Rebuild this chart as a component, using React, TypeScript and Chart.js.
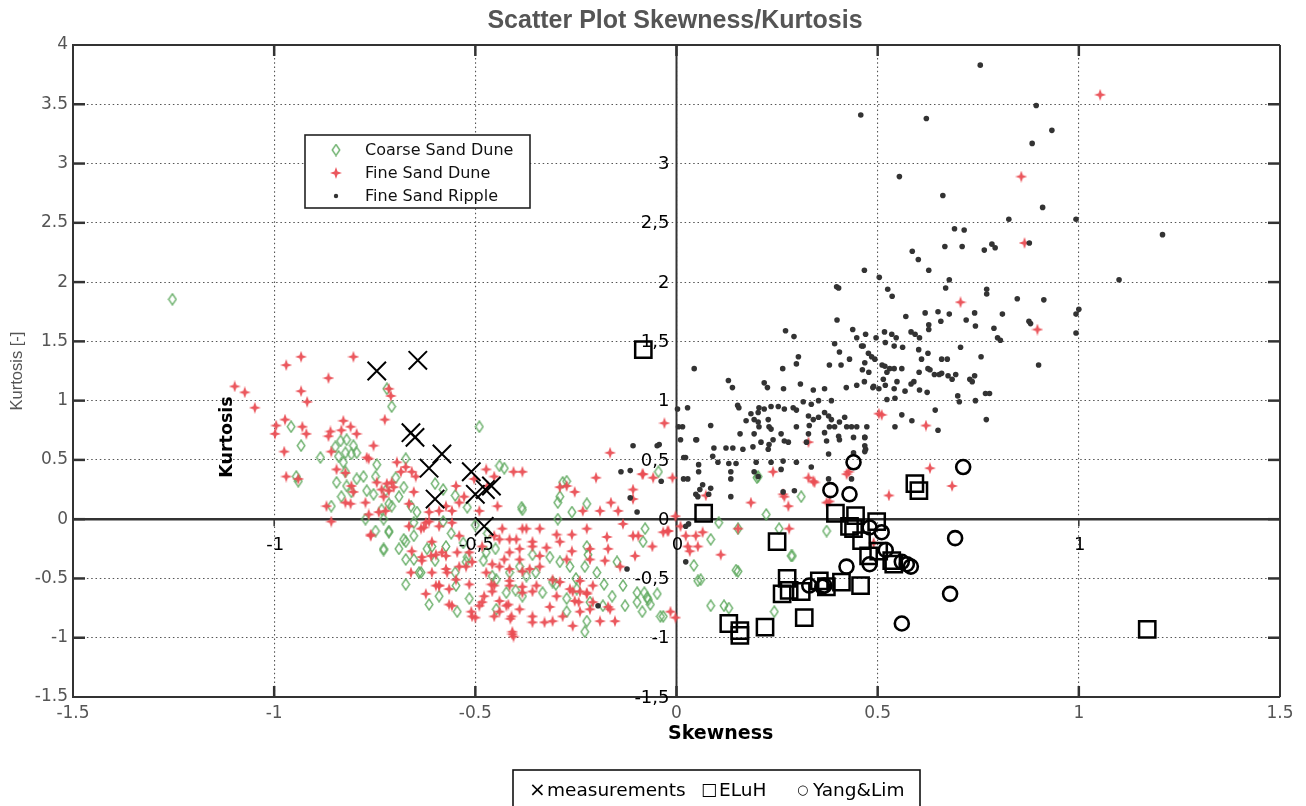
import React, { useEffect, useRef } from "react";
import { Chart, registerables } from "chart.js";

Chart.register(...registerables);

const chartTitle = "Scatter Plot Skewness/Kurtosis";
const xAxisTitle = "Skewness";
const yAxisTitle = "Kurtosis [-]";
const innerYAxisTitle = "Kurtosis";
const xTickValues = [-1.5, -1, -0.5, 0, 0.5, 1, 1.5];
const yTickValues = [-1.5, -1, -0.5, 0, 0.5, 1, 1.5, 2, 2.5, 3, 3.5, 4];
const innerXTickValues = [-1, -0.5, 0, 1];
const innerXTickLabels = ["-1", "-0,5", "0", "1"];
const innerYTickValues = [3, 2.5, 2, 1.5, 1, 0.5, 0, -0.5, -1, -1.5];
const innerYTickLabels = ["3", "2,5", "2", "1,5", "1", "0,5", "0", "-0,5", "-1", "-1,5"];
const seriesNames = ["Coarse Sand Dune", "Fine Sand Dune", "Fine Sand Ripple"];
const referenceNames = ["measurements", "ELuH", "Yang&Lim"];

const fineSandRipple: [number, number][] = [
  [0.755, 3.83], [0.458, 3.41], [0.621, 3.38], [0.894, 3.49], [0.933, 3.28], [0.884, 3.17], [0.554, 2.89], [0.662, 2.73],
  [0.91, 2.63], [0.826, 2.53], [0.993, 2.53], [0.691, 2.45], [0.715, 2.44], [1.208, 2.4], [0.667, 2.3], [0.71, 2.3],
  [0.765, 2.27], [0.784, 2.32], [0.792, 2.29], [0.877, 2.33], [0.586, 2.26], [0.601, 2.19], [0.467, 2.1], [0.627, 2.1],
  [0.504, 2.04], [0.678, 2.02], [1.1, 2.02], [0.398, 1.96], [0.403, 1.95], [0.525, 1.94], [0.536, 1.88], [0.669, 1.95],
  [0.771, 1.94], [0.771, 1.9], [0.847, 1.86], [0.913, 1.85], [1.0, 1.77], [0.993, 1.73], [0.57, 1.71], [0.618, 1.74],
  [0.65, 1.75], [0.678, 1.73], [0.741, 1.74], [0.81, 1.73], [0.399, 1.68], [0.657, 1.67], [0.72, 1.68], [0.743, 1.63],
  [0.876, 1.67], [0.88, 1.65], [0.627, 1.64], [0.627, 1.6], [0.789, 1.61], [0.271, 1.59], [0.292, 1.54], [0.438, 1.6],
  [0.448, 1.53], [0.47, 1.56], [0.496, 1.53], [0.517, 1.58], [0.535, 1.56], [0.546, 1.53], [0.583, 1.58], [0.593, 1.56],
  [0.604, 1.53], [0.798, 1.53], [0.805, 1.51], [0.993, 1.57], [0.393, 1.48], [0.405, 1.41], [0.464, 1.46], [0.477, 1.4],
  [0.519, 1.49], [0.541, 1.46], [0.562, 1.45], [0.602, 1.43], [0.625, 1.4], [0.706, 1.45], [0.303, 1.37], [0.298, 1.31],
  [0.264, 1.27], [0.38, 1.3], [0.409, 1.3], [0.43, 1.35], [0.462, 1.26], [0.493, 1.35], [0.511, 1.3], [0.53, 1.27],
  [0.541, 1.27], [0.56, 1.27], [0.609, 1.35], [0.625, 1.27], [0.641, 1.22], [0.659, 1.35], [0.673, 1.35], [0.659, 1.23],
  [0.675, 1.21], [0.694, 1.22], [0.729, 1.18], [0.741, 1.21], [0.757, 1.37], [0.9, 1.3], [0.044, 1.27], [0.129, 1.17],
  [0.139, 1.11], [0.218, 1.15], [0.226, 1.11], [0.266, 1.1], [0.308, 1.14], [0.34, 1.09], [0.368, 1.1], [0.422, 1.11],
  [0.448, 1.13], [0.467, 1.16], [0.488, 1.11], [0.514, 1.18], [0.519, 1.13], [0.541, 1.1], [0.583, 1.14], [0.604, 1.09],
  [0.768, 1.06], [0.699, 1.04], [0.46, 1.46], [0.485, 1.37], [0.468, 1.32], [0.478, 1.24], [0.49, 1.12], [0.503, 1.1],
  [0.518, 1.29], [0.523, 1.24], [0.548, 1.16], [0.59, 1.16], [0.603, 1.24], [0.63, 1.26], [0.653, 1.22], [0.685, 1.18],
  [0.735, 1.16], [0.778, 1.06], [0.568, 1.08], [0.623, 1.07], [0.523, 1.01], [0.543, 1.02],
  [0.703, 0.99], [0.743, 1.0], [0.643, 0.92], [0.56, 0.88], [0.585, 0.83], [0.543, 0.78], [0.65, 0.75], [0.77, 0.84],
  [0.468, 0.69], [0.47, 0.59], [0.0025, 0.93], [0.0275, 0.94], [0.152, 0.96], [0.155, 0.94], [0.205, 0.94], [0.218, 0.93],
  [0.235, 0.95], [0.185, 0.89], [0.203, 0.9], [0.193, 0.84], [0.253, 0.95], [0.268, 0.93], [0.29, 0.94], [0.298, 0.92],
  [0.315, 0.99], [0.335, 0.97], [0.353, 1.0], [0.385, 1.0], [0.173, 0.83], [0.203, 0.82], [0.205, 0.78], [0.228, 0.84],
  [0.23, 0.78], [0.328, 0.87], [0.34, 0.84], [0.33, 0.79], [0.353, 0.86], [0.368, 0.9], [0.378, 0.87], [0.385, 0.84],
  [0.38, 0.78], [0.393, 0.78], [0.405, 0.82], [0.418, 0.86], [0.423, 0.78], [0.435, 0.78], [0.448, 0.78], [0.473, 0.78],
  [0.015, 0.78], [0.085, 0.79], [0.158, 0.72], [0.193, 0.72], [0.235, 0.76], [0.26, 0.72], [0.268, 0.66], [0.278, 0.65],
  [0.298, 0.78], [0.328, 0.72], [0.323, 0.65], [0.368, 0.73], [0.373, 0.66], [0.403, 0.7], [0.405, 0.67], [0.44, 0.69],
  [0.468, 0.69], [0.05, 0.67], [0.21, 0.65], [0.23, 0.63], [0.24, 0.67], [0.228, 0.59], [0.093, 0.6], [0.123, 0.6],
  [0.14, 0.6], [0.165, 0.59], [0.19, 0.61], [0.378, 0.55], [0.468, 0.62], [0.0225, 0.52], [0.09, 0.53], [0.103, 0.48],
  [0.13, 0.47], [0.148, 0.47], [0.198, 0.48], [0.235, 0.48], [0.265, 0.49], [0.298, 0.48], [0.055, 0.46], [0.055, 0.4],
  [0.135, 0.4], [0.135, 0.34], [0.0175, 0.34], [0.435, 0.34], [0.065, 0.29], [0.058, 0.25], [0.053, 0.19], [0.085, 0.26],
  [0.135, 0.19], [0.265, 0.23], [0.293, 0.24], [0.193, 0.4], [0.203, 0.36], [0.335, 0.44], [0.378, 0.34], [0.26, 0.42],
  [0.44, 0.56], [0.468, 0.57], [0.08, 0.21], [0.048, 0.21], [0.03, -0.04],
  [-0.108, 0.62], [-0.043, 0.63], [-0.138, 0.4], [-0.115, 0.41], [-0.038, 0.32], [-0.115, 0.18], [-0.098, 0.06],
  [-0.123, -0.42], [-0.195, -0.73], [0.005, 0.78], [0.01, 0.67], [0.018, 0.52], [0.028, 0.34], [0.048, 0.67],
  [-0.048, 0.62], [0.023, -0.06], [0.023, -0.36],
];

const fineSandDune: [number, number][] = [
  [-1.098, 1.12], [-1.073, 1.07], [-1.048, 0.94], [-0.97, 1.3], [-0.933, 1.37], [-0.803, 1.37], [-0.865, 1.19], [-0.933, 1.08],
  [-0.918, 0.99], [-0.995, 0.79], [-0.998, 0.72], [-0.973, 0.84], [-0.93, 0.78], [-0.92, 0.72], [-0.975, 0.57], [-0.97, 0.36],
  [-0.94, 0.34], [-0.86, 0.74], [-0.865, 0.7], [-0.828, 0.83], [-0.833, 0.75], [-0.81, 0.78], [-0.795, 0.72], [-0.753, 0.62],
  [-0.725, 0.84], [-0.71, 1.04], [-0.77, 0.52], [-0.858, 0.57], [-0.845, 0.42], [-0.87, 0.11], [-0.858, -0.02], [-0.823, 0.14],
  [-0.81, 0.13], [-0.808, 0.28], [-0.773, 0.14], [-0.765, 0.04], [-0.76, -0.14], [-0.733, 0.25], [-0.72, 0.3], [-0.708, 0.31],
  [-0.728, 0.19], [-0.695, 0.48], [-0.685, 0.4], [-0.673, 0.44], [-0.658, 0.4], [-0.648, 0.36], [-0.653, 0.23], [-0.633, -0.32],
  [-0.598, -0.3], [-0.66, -0.45], [-0.598, -0.56], [-0.635, -0.08], [-0.615, -0.02],
  [-0.715, 1.1], [-0.765, 0.51], [-0.803, 0.23], [-0.745, 0.31], [-0.715, 0.24], [-0.703, 0.27], [-0.665, 0.13], [-0.74, 0.06],
  [-0.723, 0.07], [-0.665, -0.06], [-0.623, -0.03], [-0.59, 0.07], [-0.573, 0.11], [-0.558, 0.07], [-0.54, 0.14], [-0.528, 0.19],
  [-0.548, 0.28], [-0.823, 0.39],
  [-0.76, -0.13], [-0.628, -0.07], [-0.633, -0.35], [-0.623, -0.63], [-0.59, -0.56], [-0.565, -0.72], [-0.573, -0.42],
  [-0.548, -0.51], [-0.523, -0.4], [-0.515, -0.55], [-0.49, -0.73], [-0.508, -0.82], [-0.478, -0.65], [-0.458, -0.61],
  [-0.44, -0.69], [-0.453, -0.82], [-0.508, -0.36], [-0.545, -0.28], [-0.573, -0.31], [-0.61, -0.31], [-0.658, -0.27],
  [-0.165, 0.56], [-0.405, 0.4], [-0.383, 0.4], [-0.2, 0.35], [-0.29, 0.27], [-0.253, 0.23], [-0.108, 0.25], [-0.108, 0.17],
  [-0.083, 0.38], [-0.01, 0.35], [-0.163, 0.14], [-0.233, 0.07], [-0.19, 0.07], [-0.145, 0.07], [-0.133, -0.04],
  [-0.383, -0.08], [-0.34, -0.08], [-0.298, -0.13], [-0.26, -0.13], [-0.223, -0.08], [-0.173, -0.15], [-0.108, -0.14],
  [-0.095, -0.14], [-0.033, -0.11], [-0.02, -0.1], [-0.453, -0.14], [-0.44, -0.17], [-0.415, -0.17], [-0.39, -0.25],
  [-0.358, -0.23], [-0.323, -0.24], [-0.29, -0.19], [-0.26, -0.27], [-0.215, -0.25], [-0.17, -0.25], [-0.06, -0.23],
  [-0.103, -0.31], [-0.458, -0.38], [-0.428, -0.34], [-0.415, -0.42], [-0.383, -0.44], [-0.34, -0.4], [-0.273, -0.34],
  [-0.215, -0.34], [-0.178, -0.35], [-0.14, -0.4], [-0.453, -0.56], [-0.415, -0.56], [-0.383, -0.57], [-0.358, -0.61],
  [-0.29, -0.53], [-0.265, -0.59], [-0.24, -0.61], [-0.208, -0.56], [-0.223, -0.63], [-0.44, -0.78], [-0.41, -0.82],
  [-0.358, -0.87], [-0.315, -0.74], [-0.253, -0.69], [-0.215, -0.76], [-0.24, -0.78], [-0.153, -0.86], [-0.015, -0.78],
  [-0.0025, -0.83], [-0.408, -0.97], [-0.258, -0.9],
  [-0.03, 0.81], [-0.085, 0.38], [0.01, -0.06], [0.023, -0.14], [0.048, -0.14], [0.065, -0.11], [0.028, -0.23], [0.053, -0.23],
  [0.11, -0.3], [0.153, -0.08], [0.185, 0.14], [0.24, 0.4], [0.265, 0.21], [0.278, 0.11], [0.28, -0.08], [0.328, 0.35],
  [0.328, 0.65], [0.423, 0.38], [0.38, 0.15], [-0.0025, 0.025], [-0.0225, -0.1], [0.033, -0.27], [0.34, 0.32], [0.373, 0.14],
  [0.528, 0.2], [0.685, 0.28], [0.51, 0.88], [0.62, 0.79], [0.63, 0.43], [0.503, 0.89], [0.343, 0.31], [0.268, 0.19],
  [0.073, 0.2], [0.428, 0.4], [1.053, 3.58], [0.857, 2.89], [0.865, 2.33], [0.706, 1.83], [0.897, 1.6], [0.49, -0.2],
  [-0.058, 0.35], [-0.273, 0.28], [-0.503, 0.34], [-0.47, 0.28], [-0.453, 0.36], [-0.473, 0.42], [-0.49, 0.07], [-0.445, 0.11],
  [-0.615, 0.06], [-0.59, -0.06], [-0.558, -0.03], [-0.54, -0.14], [-0.608, -0.19], [-0.583, -0.28],
  [-0.433, -0.08], [-0.398, -0.17], [-0.373, -0.08], [-0.358, -0.19], [-0.415, -0.28], [-0.39, -0.34], [-0.365, -0.42],
  [-0.34, -0.31], [-0.44, -0.4], [-0.483, -0.23], [-0.515, -0.28], [-0.54, -0.4], [-0.57, -0.45], [-0.473, -0.45],
  [-0.46, -0.55], [-0.415, -0.52], [-0.383, -0.62], [-0.348, -0.56], [-0.308, -0.51], [-0.298, -0.65], [-0.258, -0.61],
  [-0.24, -0.52], [-0.223, -0.62], [-0.39, -0.76], [-0.423, -0.73], [-0.483, -0.7], [-0.51, -0.78], [-0.558, -0.73],
  [-0.565, -0.59], [-0.59, -0.56], [-0.608, -0.45], [-0.358, -0.82], [-0.328, -0.87], [-0.283, -0.82], [-0.408, -0.95],
  [-0.208, -0.7], [-0.19, -0.86], [-0.165, -0.76], [-0.5, -0.83], [-0.413, -0.84], [-0.405, -0.99], [-0.308, -0.86],
  [-0.17, -0.74], [-0.243, -0.7], [-0.418, -0.72],
];

const coarseSandDune: [number, number][] = [
  [-1.253, 1.855], [-0.72, 1.1], [-0.708, 0.95], [-0.958, 0.78], [-0.933, 0.62], [-0.945, 0.36], [-0.94, 0.32], [-0.885, 0.52],
  [-0.848, 0.61], [-0.835, 0.66], [-0.82, 0.67], [-0.803, 0.62], [-0.823, 0.56], [-0.84, 0.53], [-0.808, 0.55], [-0.795, 0.56],
  [-0.828, 0.48], [-0.823, 0.4], [-0.845, 0.31], [-0.82, 0.28], [-0.808, 0.23], [-0.833, 0.19], [-0.858, 0.11], [-0.795, 0.34],
  [-0.778, 0.36], [-0.748, 0.36], [-0.77, 0.24], [-0.753, 0.21], [-0.723, 0.24], [-0.715, 0.13], [-0.733, 0.08], [-0.69, 0.19],
  [-0.678, 0.27], [-0.708, 0.11], [-0.698, 0.35], [-0.745, 0.46], [-0.773, 0.0], [-0.728, 0.0], [-0.715, -0.11], [-0.728, -0.25],
  [-0.678, -0.17], [-0.69, -0.25], [-0.653, -0.14], [-0.66, 0.11], [-0.645, 0.06], [-0.653, -0.03], [-0.673, -0.34],
  [-0.64, -0.45], [-0.673, -0.55], [-0.615, -0.72], [-0.608, -0.23], [-0.49, 0.78], [-0.673, 0.51],
  [-0.748, -0.1], [-0.715, -0.1], [-0.728, -0.26], [-0.673, -0.19], [-0.653, -0.34], [-0.635, -0.45], [-0.59, -0.65],
  [-0.573, -0.23], [-0.548, -0.56], [-0.515, -0.67], [-0.523, -0.36], [-0.473, -0.28], [-0.458, -0.48], [-0.448, -0.76],
  [-0.545, -0.78], [-0.428, 0.43], [-0.383, 0.08], [-0.29, 0.19], [-0.273, 0.32], [-0.223, 0.13], [-0.26, 0.06], [-0.295, 0.0],
  [-0.045, 0.4], [-0.078, -0.08], [-0.083, -0.19], [-0.223, -0.23], [-0.22, -0.3], [-0.315, -0.32], [-0.29, -0.36],
  [-0.265, -0.4], [-0.228, -0.4], [-0.198, -0.45], [-0.148, -0.36], [-0.358, -0.3], [-0.39, -0.4], [-0.415, -0.45],
  [-0.373, -0.48], [-0.448, -0.51], [-0.423, -0.62], [-0.383, -0.65], [-0.333, -0.62], [-0.308, -0.53], [-0.273, -0.67],
  [-0.248, -0.59], [-0.215, -0.7], [-0.183, -0.73], [-0.133, -0.56], [-0.098, -0.62], [-0.073, -0.66], [-0.048, -0.63],
  [-0.128, -0.73], [-0.098, -0.7], [-0.065, -0.72], [-0.04, -0.82], [-0.223, -0.86], [-0.228, -0.95], [-0.273, -0.78],
  [-0.385, 0.1], [-0.295, 0.14], [-0.283, 0.31], [0.203, 0.36], [0.223, 0.04], [0.31, 0.19], [0.085, -0.17], [0.06, -0.51],
  [0.153, -0.44], [0.085, -0.73], [0.118, -0.73], [0.285, -0.31], [0.243, -0.78], [0.373, -0.1], [0.105, -0.03],
  [0.153, -0.08], [0.255, -0.08], [0.288, -0.31], [0.148, -0.43], [0.053, -0.52], [0.13, -0.75], [-0.033, -0.82],
  [0.043, -0.39], [-0.08, -0.62], [-0.07, -0.68], [-0.085, -0.78], [-0.56, -0.12], [-0.53, -0.2], [-0.5, -0.05],
  [-0.47, -0.12], [-0.52, -0.32], [-0.48, -0.35], [-0.45, -0.25], [-0.55, -0.45], [-0.6, -0.35], [-0.62, -0.25],
  [-0.58, -0.02], [-0.6, 0.3], [-0.58, 0.25], [-0.55, 0.2], [-0.52, 0.1], [-0.44, 0.45], [-0.4, -0.6], [-0.35, -0.45],
  [-0.3, -0.55], [-0.25, -0.5], [-0.18, -0.55], [-0.16, -0.65], [0.2, 0.35],
];

const measurements: [number, number][] = [
  [-0.745, 1.25], [-0.643, 1.34], [-0.66, 0.73], [-0.65, 0.69], [-0.583, 0.55], [-0.615, 0.43], [-0.6, 0.17],
  [-0.51, 0.4], [-0.5, 0.21], [-0.475, 0.25], [-0.46, 0.28], [-0.478, -0.06],
];

const eluh: [number, number][] = [
  [-0.0825, 1.43], [0.0675, 0.05], [0.25, -0.19], [0.395, 0.05], [0.445, 0.03], [0.4975, -0.02], [0.43, -0.06],
  [0.44, -0.08], [0.46, -0.18], [0.4775, -0.31], [0.5025, -0.27], [0.535, -0.35], [0.54, -0.38], [0.275, -0.5],
  [0.2625, -0.63], [0.28, -0.6], [0.31, -0.61], [0.355, -0.52], [0.3725, -0.57], [0.41, -0.53], [0.4575, -0.56],
  [0.13, -0.88], [0.1575, -0.94], [0.1575, -0.98], [0.22, -0.91], [0.3175, -0.83], [0.5925, 0.3], [0.6025, 0.24],
  [1.17, -0.93],
];

const yangLim: [number, number][] = [
  [0.44, 0.48], [0.7125, 0.44], [0.3825, 0.245], [0.43, 0.21], [0.48, -0.07], [0.51, -0.11], [0.52, -0.26],
  [0.48, -0.38], [0.4225, -0.4], [0.56, -0.36], [0.5725, -0.38], [0.5825, -0.4], [0.33, -0.56], [0.3675, -0.56],
  [0.3625, -0.57], [0.6925, -0.16], [0.68, -0.63], [0.56, -0.88],
];

const toPoints = (arr: [number, number][]) => arr.map(([x, y]) => ({ x, y }));

function makeDiamond(): HTMLCanvasElement {
  const c = document.createElement("canvas");
  c.width = 10;
  c.height = 13;
  const g = c.getContext("2d")!;
  g.strokeStyle = "rgba(95,170,95,0.9)";
  g.lineWidth = 1.4;
  g.beginPath();
  g.moveTo(5, 1);
  g.lineTo(8.8, 6.5);
  g.lineTo(5, 12);
  g.lineTo(1.2, 6.5);
  g.closePath();
  g.stroke();
  return c;
}

function makeSparkle(): HTMLCanvasElement {
  const c = document.createElement("canvas");
  c.width = 12;
  c.height = 12;
  const g = c.getContext("2d")!;
  g.fillStyle = "rgba(234,78,84,0.95)";
  const cx = 6, cy = 6, ro = 6, ri = 2.2;
  g.beginPath();
  for (let i = 0; i < 8; i++) {
    const a = (i * Math.PI) / 4 - Math.PI / 2;
    const r = i % 2 === 0 ? ro : ri;
    const px = cx + r * Math.cos(a);
    const py = cy + r * Math.sin(a);
    if (i === 0) g.moveTo(px, py);
    else g.lineTo(px, py);
  }
  g.closePath();
  g.fill();
  return c;
}

export default function App() {
  const canvasRef = useRef<HTMLCanvasElement | null>(null);

  useEffect(() => {
    const canvas = canvasRef.current;
    if (!canvas) return;
    const diamond = makeDiamond();
    const sparkle = makeSparkle();
    const rippleColor = "#333";

    const line = (ctx: CanvasRenderingContext2D, x1: number, y1: number, x2: number, y2: number) => {
      ctx.beginPath();
      ctx.moveTo(x1, y1);
      ctx.lineTo(x2, y2);
      ctx.stroke();
    };

    const overlay = {
      id: "overlay",
      beforeDatasetsDraw(chart: any) {
        const { ctx, chartArea, scales } = chart;
        const { left, right, top, bottom } = chartArea;
        const xs = scales.x, ys = scales.y;
        const x0 = xs.getPixelForValue(0);
        const y0 = ys.getPixelForValue(0);
        ctx.save();
        ctx.strokeStyle = "#333";
        ctx.lineWidth = 2;
        line(ctx, x0, top, x0, bottom);
        ctx.lineWidth = 2.5;
        line(ctx, left, y0, right, y0);
        ctx.lineWidth = 1.5;
        innerXTickValues.forEach((v) => {
          const px = xs.getPixelForValue(v);
          line(ctx, px, y0, px, y0 + 7);
        });
        ctx.restore();
      },
      afterDraw(chart: any) {
        const { ctx, chartArea, scales } = chart;
        const { left, right, top, bottom } = chartArea;
        const xs = scales.x, ys = scales.y;
        const x0 = xs.getPixelForValue(0);
        const y0 = ys.getPixelForValue(0);
        ctx.save();
        ctx.strokeStyle = "#333";
        ctx.lineWidth = 2;
        line(ctx, left, top, right, top);
        line(ctx, right, top, right, bottom);
        ctx.lineWidth = 2.5;
        yTickValues.forEach((v) => {
          if (v === yTickValues[0] || v === yTickValues[yTickValues.length - 1]) return;
          const py = ys.getPixelForValue(v);
          line(ctx, left, py, left + 12, py);
          line(ctx, right - 12, py, right, py);
        });
        xTickValues.forEach((v) => {
          if (v === xTickValues[0] || v === xTickValues[xTickValues.length - 1]) return;
          const px = xs.getPixelForValue(v);
          line(ctx, px, bottom, px, bottom - 11);
          line(ctx, px, top, px, top + 11);
        });

        ctx.fillStyle = "#555";
        ctx.font = "bold 25px 'Liberation Sans', Arial, sans-serif";
        ctx.textAlign = "center";
        ctx.textBaseline = "middle";
        ctx.fillText(chartTitle, 675, 21);

        ctx.save();
        ctx.translate(17, 371);
        ctx.rotate(-Math.PI / 2);
        ctx.font = "16.5px 'Liberation Sans', Arial, sans-serif";
        ctx.fillStyle = "#555";
        ctx.fillText(yAxisTitle, 0, 0);
        ctx.restore();

        ctx.save();
        ctx.translate(227, 437);
        ctx.rotate(-Math.PI / 2);
        ctx.font = "bold 17.5px 'DejaVu Sans', sans-serif";
        ctx.fillStyle = "#000";
        ctx.fillText(innerYAxisTitle, 0, 0);
        ctx.restore();

        ctx.font = "bold 19px 'DejaVu Sans', sans-serif";
        ctx.fillStyle = "#000";
        ctx.textAlign = "left";
        ctx.fillText(xAxisTitle, 668, 734);

        ctx.font = "18px 'DejaVu Sans', sans-serif";
        ctx.textAlign = "right";
        innerYTickValues.forEach((v, i) => {
          ctx.fillText(innerYTickLabels[i], x0 - 7, ys.getPixelForValue(v) + 1);
        });
        ctx.textAlign = "center";
        innerXTickValues.forEach((v, i) => {
          ctx.fillText(innerXTickLabels[i], xs.getPixelForValue(v) + 1, y0 + 26);
        });

        ctx.fillStyle = "#fff";
        ctx.fillRect(305, 135, 225, 73);
        ctx.strokeStyle = "#222";
        ctx.lineWidth = 1.6;
        ctx.strokeRect(305, 135, 225, 73);
        const rows = [150, 173, 196];
        ctx.drawImage(diamond, 336 - diamond.width / 2, rows[0] - diamond.height / 2);
        ctx.drawImage(sparkle, 336 - sparkle.width / 2, rows[1] - sparkle.height / 2);
        ctx.fillStyle = rippleColor;
        ctx.beginPath();
        ctx.arc(336, rows[2], 2.2, 0, Math.PI * 2);
        ctx.fill();
        ctx.fillStyle = "#111";
        ctx.font = "16px 'DejaVu Sans', sans-serif";
        ctx.textAlign = "left";
        seriesNames.forEach((n, i) => ctx.fillText(n, 365, rows[i] + 1));

        ctx.fillStyle = "#fff";
        ctx.fillRect(513, 770, 407, 40);
        ctx.strokeStyle = "#111";
        ctx.lineWidth = 1.6;
        ctx.strokeRect(513, 770, 407, 40);
        ctx.fillStyle = "#000";
        const ly = 791;
        ctx.font = "20px 'DejaVu Sans', sans-serif";
        ctx.fillText("\u00d7", 529, ly);
        ctx.font = "18.5px 'DejaVu Sans', sans-serif";
        ctx.fillText(referenceNames[0], 547, ly);
        ctx.font = "17px 'DejaVu Sans', sans-serif";
        ctx.fillText("\u25a1", 701, ly);
        ctx.font = "18.5px 'DejaVu Sans', sans-serif";
        ctx.fillText(referenceNames[1], 719, ly);
        ctx.font = "13px 'DejaVu Sans', sans-serif";
        ctx.fillText("\u25cb", 797, ly);
        ctx.font = "18.5px 'DejaVu Sans', sans-serif";
        ctx.fillText(referenceNames[2], 813, ly);
        ctx.restore();
      },
    };

    const tickFont = { family: "'DejaVu Sans', sans-serif", size: 17 };

    const chart = new Chart(canvas, {
      type: "scatter",
      data: {
        datasets: [
          {
            label: referenceNames[2],
            data: toPoints(yangLim),
            pointStyle: "circle",
            radius: 7,
            borderWidth: 2.6,
            borderColor: "#000",
            backgroundColor: "rgba(0,0,0,0)",
            order: 1,
          },
          {
            label: referenceNames[1],
            data: toPoints(eluh),
            pointStyle: "rect",
            radius: 11.5,
            borderWidth: 2.5,
            borderColor: "#000",
            backgroundColor: "rgba(0,0,0,0)",
            order: 2,
          },
          {
            label: referenceNames[0],
            data: toPoints(measurements),
            pointStyle: "crossRot",
            radius: 13,
            borderWidth: 2,
            borderColor: "#000",
            order: 3,
          },
          {
            label: seriesNames[2],
            data: toPoints(fineSandRipple),
            pointStyle: "circle",
            radius: 2.8,
            borderWidth: 0,
            backgroundColor: rippleColor,
            order: 4,
          },
          {
            label: seriesNames[1],
            data: toPoints(fineSandDune),
            pointStyle: sparkle,
            order: 5,
          },
          {
            label: seriesNames[0],
            data: toPoints(coarseSandDune),
            pointStyle: diamond,
            order: 6,
          },
        ] as any,
      },
      options: {
        responsive: false,
        animation: false,
        events: [],
        layout: { padding: { top: 45, right: 26, left: 0, bottom: 0 } },
        plugins: {
          legend: { display: false },
          tooltip: { enabled: false },
          title: { display: false },
        },
        scales: {
          x: {
            type: "linear",
            min: -1.5,
            max: 1.5,
            afterBuildTicks: (s: any) => {
              s.ticks = xTickValues.map((v) => ({ value: v }));
            },
            afterFit: (s: any) => {
              s.height = 109;
            },
            ticks: {
              color: "#555",
              font: tickFont,
              padding: 6,
              maxRotation: 0,
              autoSkip: false,
              callback: (v: any) => String(v),
            },
            grid: { color: "#555", lineWidth: 1.1, drawTicks: false },
            border: { display: true, color: "#333", width: 2, dash: [1.5, 2.8] },
          },
          y: {
            type: "linear",
            min: -1.5,
            max: 4,
            afterBuildTicks: (s: any) => {
              s.ticks = yTickValues.map((v) => ({ value: v }));
            },
            afterFit: (s: any) => {
              s.width = 73;
            },
            ticks: {
              color: "#555",
              font: tickFont,
              padding: 5,
              autoSkip: false,
              callback: (v: any) => String(v),
            },
            grid: { color: "#555", lineWidth: 1.1, drawTicks: false },
            border: { display: true, color: "#333", width: 2, dash: [1.5, 2.8] },
          },
        },
      } as any,
      plugins: [overlay],
    });

    return () => chart.destroy();
  }, []);

  return (
    <div style={{ position: "fixed", left: 0, top: 0, width: 1306, height: 806, background: "#fff" }}>
      <canvas ref={canvasRef} width={1306} height={806} style={{ display: "block" }} />
    </div>
  );
}
